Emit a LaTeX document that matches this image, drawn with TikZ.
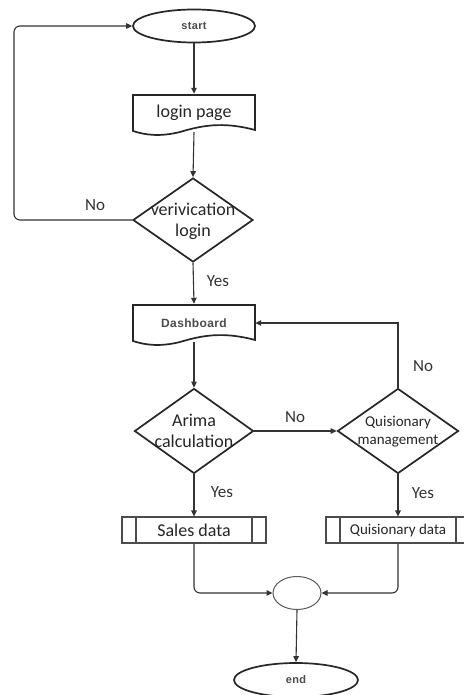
\documentclass[tikz,border=0pt]{standalone}
\usepackage{fontspec}
\setmainfont{Carlito}
\newfontfamily\smallf{Liberation Sans}[LetterSpace=3]
\usetikzlibrary{shapes.geometric,arrows.meta}
\tikzset{
  line/.style={draw=black!80, line width=1.1pt},
  arr/.style={line, -{Triangle[length=6pt,width=5.5pt]}},
  shapeline/.style={draw=black!85, line width=1.7pt},
  term/.style={ellipse, shapeline, inner sep=0pt, text=black!70, font=\smallf\bfseries\fontsize{11}{13}\selectfont},
  docbox/.style={rectangle, draw=none, inner sep=0pt},
  dec/.style={diamond, shapeline, inner sep=0pt},
  dtext/.style={align=center, inner sep=0pt, text=black!85},
  proc/.style={rectangle, draw=black!70, line width=1.1pt, inner sep=0pt, minimum width=144pt, minimum height=26pt, text=black!85},
  lbl/.style={font=\fontsize{17}{19}\selectfont, text=black!80},
}
\begin{document}
\begin{tikzpicture}[x=1pt,y=-1pt]
\useasboundingbox (0,0) rectangle (463,695);
\fill[white] (0,0) rectangle (463,695);

% start
\node[term, minimum width=122pt, minimum height=33pt] (start) at (194,26) {start};

% login page (document shape)
\node[docbox, minimum width=122pt, minimum height=38pt, text=black!85, font=\fontsize{18}{20}\selectfont] (login) at (194,113) {login page};
\draw[shapeline] (133,95) -- (255,95) -- (255,130)
  .. controls (222,121) and (200,126) .. (180,132)
  .. controls (160,137) and (145,135) .. (133,131) -- cycle;

% verification
\node[dec, minimum width=120pt, minimum height=84pt] (verif) at (193,220) {};
\node[dtext, font=\fontsize{18}{21}\selectfont] (veriftext) at (193,221) {verivication\\login};

% dashboard
\node[docbox, minimum width=122pt, minimum height=38pt, text=black!70, font=\smallf\bfseries\fontsize{12}{14}\selectfont] (dash) at (194,323) {Dashboard};
\draw[shapeline] (133,305) -- (255,305) -- (255,340)
  .. controls (222,331) and (200,336) .. (180,342)
  .. controls (160,347) and (145,345) .. (133,341) -- cycle;

% decisions
\node[dec, minimum width=119pt, minimum height=85pt] (arima) at (194,431) {};
\node[dtext, font=\fontsize{18}{21}\selectfont] (arimatext) at (194,431) {Arima\\calculation};
\node[dec, minimum width=121pt, minimum height=85pt] (quis) at (398,431) {};
\node[dtext, font=\fontsize{15}{18}\selectfont] (quistext) at (398,432) {Quisionary\\management};

% process boxes
\node[proc, font=\fontsize{18}{20}\selectfont] (sales) at (194,530) {Sales data};
\draw[line, draw=black!70] (136,517) -- (136,543) (252,517) -- (252,543);
\node[proc, font=\fontsize{15}{17}\selectfont] (qdata) at (398,530) {Quisionary data};
\draw[line, draw=black!70] (340,517) -- (340,543) (456,517) -- (456,543);

% connector and end
\node[ellipse, draw=black!65, line width=1pt, minimum width=48pt, minimum height=33pt, inner sep=0pt] (conn) at (297,593) {};
\node[term, minimum width=124pt, minimum height=34pt] (end) at (296,680) {end};

\coordinate (loopc) at (14,26);

% connectors
\draw[arr] (start) -- (login);
\draw[arr] (login.south) -- (verif.north);
\draw[arr, rounded corners=6pt] (verif.west) -| (loopc) -- (start.west);
\draw[arr] (verif.south) -- (dash.north);
\draw[arr] (dash.south) -- (arima.north);
\draw[arr] (arima.east) -- (quis.west);
\draw[arr] (quis.north) |- (dash.east);
\draw[arr] (arima.south) -- (sales.north);
\draw[arr] (quis.south) -- (qdata.north);
\draw[arr, rounded corners=6pt] (sales.south) |- (conn.west);
\draw[arr, rounded corners=6pt] (qdata.south) |- (conn.east);
\draw[arr] (conn.south) -- (end.north);

% labels
\node[lbl] (lno1) at (95,205) {No};
\node[lbl] (lyes1) at (218,281) {Yes};
\node[lbl] (lno2) at (295,417) {No};
\node[lbl] (lno3) at (423,366) {No};
\node[lbl] (lyes2) at (222,492) {Yes};
\node[lbl] (lyes3) at (423,493) {Yes};
\end{tikzpicture}
\end{document}
